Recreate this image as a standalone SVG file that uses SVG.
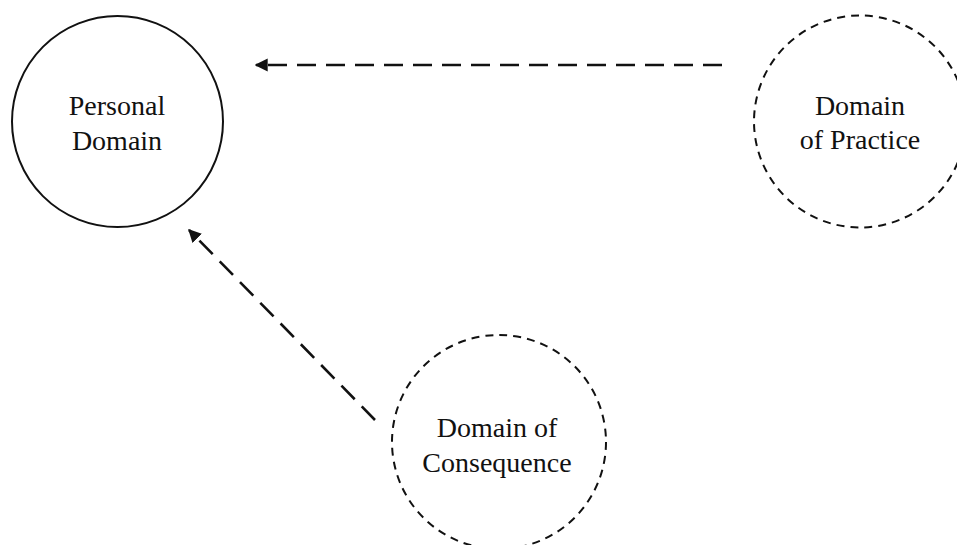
<svg xmlns="http://www.w3.org/2000/svg" width="957" height="545" viewBox="0 0 957 545">
  <style>
    .node { fill: none; stroke: #111; stroke-width: 2; }
    .dashed { stroke-dasharray: 8 6; }
    .label { font-family: "Liberation Serif", "DejaVu Serif", serif; font-size: 28px; fill: #111; text-anchor: middle; }
    .link { fill: none; stroke: #111; stroke-width: 2.6; stroke-dasharray: 19 10; }
  </style>
  <defs>
    <marker id="arrow" viewBox="0 0 10 10" refX="9" refY="5" markerWidth="5" markerHeight="5.5" orient="auto" markerUnits="strokeWidth">
      <path d="M0,0 L10,5 L0,10 z" fill="#111"/>
    </marker>
  </defs>
  <rect width="957" height="545" fill="#fff"/>

  <g id="personal-domain">
    <circle class="node" cx="117.5" cy="121.5" r="105.5"/>
    <text class="label" x="117" y="115">Personal</text>
    <text class="label" x="117" y="150">Domain</text>
  </g>

  <g id="domain-of-practice">
    <circle class="node dashed" cx="860" cy="121.5" r="106"/>
    <text class="label" x="860" y="115">Domain</text>
    <text class="label" x="860" y="149">of Practice</text>
  </g>

  <g id="domain-of-consequence">
    <circle class="node dashed" cx="499" cy="442" r="107"/>
    <text class="label" x="497" y="437">Domain of</text>
    <text class="label" x="497" y="472">Consequence</text>
  </g>

  <g id="connectors">
    <path class="link" d="M722,65 L256,65" marker-end="url(#arrow)"/>
    <path class="link" d="M375,420 L189,230" marker-end="url(#arrow)"/>
  </g>
</svg>
